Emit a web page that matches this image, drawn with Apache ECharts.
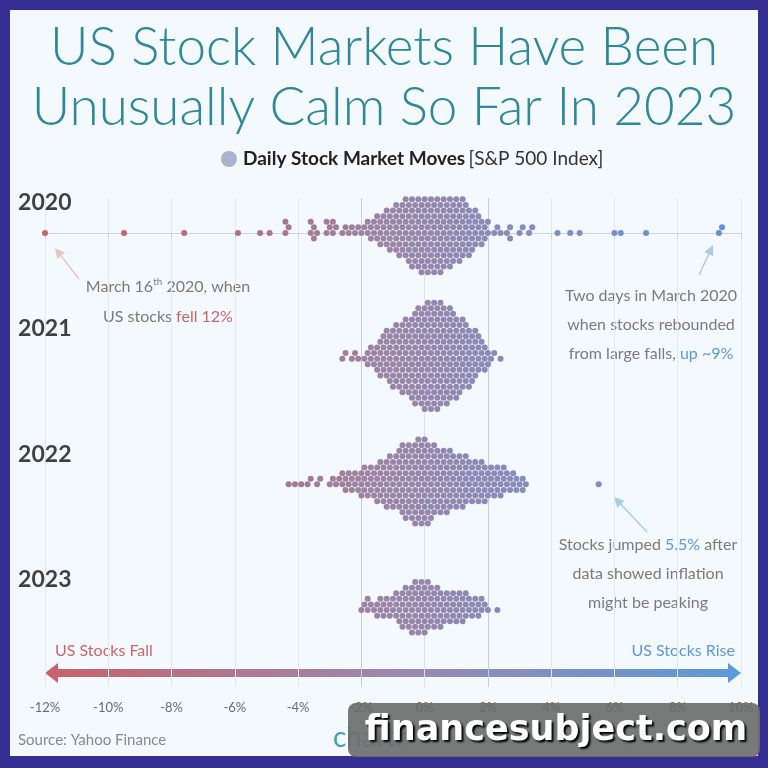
<!DOCTYPE html>
<html>
<head>
<meta charset="utf-8">
<script src="https://cdn.jsdelivr.net/npm/echarts@6/dist/echarts.min.js"></script>
<style>
html,body{margin:0;padding:0;background:#352f94;}
#main{width:768px;height:768px;}
</style>
</head>
<body>
<div id="main"></div>
<script>
// daily S&P 500 moves, rounded to 0.1% : [move, number of days]
const years = ['2020', '2021', '2022', '2023'];
const moves2020 = [
  [-12.0,1],[-9.5,1],[-7.6,1],[-5.9,1],[-5.2,1],[-4.9,1],[-4.4,2],[-4.3,1],
  [-3.6,2],[-3.5,2],[-3.4,1],[-3.1,2],[-3.0,1],[-2.9,2],[-2.8,1],
  [-2.6,1],[-2.5,1],[-2.4,1],[-2.3,1],[-2.2,1],[-2.1,1],[-2.0,1],[-1.9,1],
  [-1.8,2],[-1.7,2],[-1.6,2],[-1.5,3],[-1.4,3],[-1.3,3],[-1.2,4],[-1.1,4],[-1.0,4],
  [-0.9,5],[-0.8,5],[-0.7,5],[-0.6,6],[-0.5,7],[-0.4,7],[-0.3,7],[-0.2,7],
  [-0.1,8],[0.0,8],[0.1,8],[0.2,8],[0.3,8],[0.4,8],[0.5,8],[0.6,7],[0.7,7],[0.8,7],
  [0.9,6],[1.0,6],[1.1,6],[1.2,6],[1.3,5],[1.4,5],[1.5,4],[1.6,4],[1.7,3],[1.8,3],
  [1.9,2],[2.0,2],[2.2,1],[2.3,1],[2.4,1],[2.6,1],[2.7,2],[3.0,1],[3.1,1],[3.3,1],[3.4,1],
  [4.2,1],[4.6,1],[4.9,1],[6.0,1],[6.2,1],[7.0,1],[9.3,1],[9.4,1]
];
const moves2021 = [
  [-2.6,1],[-2.5,1],[-2.3,1],[-2.2,1],[-2.1,1],[-1.9,1],[-1.8,2],[-1.7,2],[-1.6,2],
  [-1.5,3],[-1.4,4],[-1.3,4],[-1.2,5],[-1.1,5],[-1.0,6],[-0.9,6],[-0.8,6],[-0.7,7],
  [-0.6,7],[-0.5,7],[-0.4,8],[-0.3,9],[-0.2,9],[-0.1,9],[0.0,10],[0.1,10],[0.2,10],
  [0.3,10],[0.4,10],[0.5,10],[0.6,9],[0.7,9],[0.8,9],[0.9,8],[1.0,8],[1.1,7],[1.2,7],
  [1.3,6],[1.4,6],[1.5,5],[1.6,5],[1.7,4],[1.8,3],[1.9,3],[2.0,2],[2.1,1],[2.2,1],[2.4,1]
];
const moves2022 = [
  [-4.3,1],[-4.1,1],[-3.9,1],[-3.7,1],[-3.6,1],[-3.4,1],[-3.3,1],[-3.0,1],[-2.9,1],[-2.8,1],
  [-2.7,1],[-2.6,2],[-2.5,2],[-2.4,2],[-2.3,2],[-2.2,2],[-2.1,2],
  [-2.0,3],[-1.9,3],[-1.8,3],[-1.7,3],[-1.6,3],[-1.5,4],[-1.4,4],[-1.3,4],
  [-1.2,5],[-1.1,5],[-1.0,5],[-0.9,5],[-0.8,6],[-0.7,7],[-0.6,7],[-0.5,7],[-0.4,7],
  [-0.3,8],[-0.2,8],[-0.1,8],[0.0,8],[0.1,8],[0.2,7],[0.3,7],[0.4,6],[0.5,6],[0.6,6],[0.7,6],
  [0.8,6],[0.9,5],[1.0,5],[1.1,5],[1.2,5],[1.3,5],[1.4,4],[1.5,4],[1.6,4],[1.7,4],[1.8,4],[1.9,4],
  [2.0,3],[2.1,3],[2.2,3],[2.3,3],[2.4,3],[2.5,3],[2.6,2],[2.7,2],[2.8,2],[2.9,2],
  [3.0,1],[3.1,2],[3.2,1],[5.5,1]
];
const moves2023 = [
  [-2.0,1],[-1.9,1],[-1.8,2],[-1.7,1],[-1.6,1],[-1.5,2],[-1.4,2],[-1.3,2],[-1.2,2],[-1.1,2],
  [-1.0,2],[-0.9,3],[-0.8,3],[-0.7,4],[-0.6,4],[-0.5,4],[-0.4,5],[-0.3,5],[-0.2,5],
  [-0.1,5],[0.0,5],[0.1,5],[0.2,4],[0.3,4],[0.4,4],[0.5,4],[0.6,3],[0.7,3],[0.8,3],
  [0.9,3],[1.0,3],[1.1,3],[1.2,3],[1.3,3],[1.4,2],[1.5,2],[1.6,2],[1.7,2],[1.8,2],[1.9,1],[2.0,1],[2.3,1]
];
const xTicks = [-12, 10, 2];   // min, max, step (%)

// layout
const G = {left: 45, right: 27, top: 198, bottom: 81};
const Y_MIN = -0.278, Y_MAX = 3.612;
const pxPerPct = (768 - G.left - G.right) / (xTicks[1] - xTicks[0]);
const pxPerRow = (768 - G.top - G.bottom) / (Y_MAX - Y_MIN);
const DOT = 6, GAP = 6.3, STEP = 5.6;

// beeswarm on a hex lattice: each dot goes to the free row nearest the centre line
function swarm(bins, row){
    let vals = [];
    bins.forEach(([v, n]) => { for(let i = 0; i < n; i++) vals.push(v); });
    vals.sort((a, b) => a - b);
    let placed = [];
    vals.forEach(v => {
        let x = v * pxPerPct;
        let near = placed.filter(p => Math.abs(p.x - x) < GAP);
        let y = 0;
        for(let k = 0; k < 200; k++){
            let m = k === 0 ? 0 : (k % 2 ? -Math.ceil(k / 2) : k / 2);
            let c = m * STEP;
            if(near.every(p => (p.x - x) ** 2 + (p.y - c) ** 2 >= GAP * GAP - 0.01)){ y = c; break; }
        }
        placed.push({x, y});
    });
    return placed.map((p, i) => [vals[i], row + p.y / pxPerRow]);
}

const dots = [].concat(
    swarm(moves2020, 0), swarm(moves2021, 1), swarm(moves2022, 2), swarm(moves2023, 3)
);

function arrow(x1, y1, x2, y2, color){
    let a = Math.atan2(y2 - y1, x2 - x1), L = 10, W = 5;
    let bx = x2 - L * Math.cos(a), by = y2 - L * Math.sin(a);
    return [
        {type: 'line', shape: {x1, y1, x2: bx, y2: by}, style: {stroke: color, lineWidth: 1.5}},
        {type: 'polygon', shape: {points: [[x2, y2], [bx + W * Math.sin(a), by - W * Math.cos(a)], [bx - W * Math.sin(a), by + W * Math.cos(a)]]}, style: {fill: color}}
    ];
}

const FONT = 'Lato, "Open Sans", sans-serif';
const grey = '#7b7b7b', red = '#c9666b', blue = '#5b9ad4';
const annoStyle = {fontFamily: FONT, fontSize: 16, fill: grey, align: 'center', verticalAlign: 'middle'};

let chart = echarts.init(document.getElementById('main'));
let ax = 45, bx = 741, ay = 673;
let option = {
    backgroundColor: '#352f94',
    animation: false,
    title: {
        text: 'US Stock Markets Have Been\nUnusually Calm So Far In 2023',
        left: 'center', top: 13,
        textStyle: {fontFamily: FONT, fontWeight: 300, fontSize: 53, lineHeight: 60, color: '#2f8898'}
    },
    grid: G,
    xAxis: {
        type: 'value', min: xTicks[0], max: xTicks[1], interval: xTicks[2],
        axisLine: {lineStyle: {color: '#cfd3d6'}},
        axisTick: {show: true, inside: false, length: 6, lineStyle: {color: '#cfd3d6'}},
        axisLabel: {formatter: '{value}%', color: '#6b6b6b', fontFamily: FONT, fontSize: 13, margin: 14},
        splitLine: {show: true, lineStyle: {color: ['#e4e9ec','#e4e9ec','#e4e9ec','#e4e9ec','#e4e9ec','#c9cdd0','#dde2e5','#c9cdd0','#e4e9ec','#e4e9ec','#e4e9ec','#e4e9ec']}}
    },
    yAxis: {type: 'value', min: Y_MIN, max: Y_MAX, inverse: true, show: false},
    visualMap: {
        show: false, type: 'continuous', dimension: 0, seriesIndex: 0, min: -12, max: 10,
        inRange: {color: ['#cc6268', '#b0707f', '#9a85a8', '#7f8dc6', '#5b93d8']}
    },
    series: [
        {type: 'scatter', symbolSize: DOT, data: dots, itemStyle: {opacity: 1}},
        {
            type: 'scatter', symbolSize: 0, clip: false, silent: true,
            data: years.map((y, i) => [-12.85, i - 0.24, y]),
            label: {show: true, position: 'right', distance: 0, formatter: p => p.value[2],
                color: '#111', fontFamily: FONT, fontSize: 23, fontWeight: 'bold'}
        }
    ],
    graphic: [
        {type: 'rect', shape: {x: 10, y: 10, width: 748, height: 746}, style: {fill: '#f3f9fc'}, z: -10},
        // legend
        {type: 'circle', shape: {cx: 229, cy: 159, r: 8}, style: {fill: '#a9b3cc'}},
        {type: 'text', x: 243, y: 159, style: {
            text: '{b|Daily Stock Market Moves} {n|[S&P 500 Index]}', verticalAlign: 'middle',
            rich: {b: {fontFamily: FONT, fontSize: 19, fontWeight: 'bold', fill: '#222'}, n: {fontFamily: FONT, fontSize: 19, fill: '#333'}}
        }},
        // direction arrow
        {type: 'polygon', shape: {points: [[ax, ay], [ax + 13, ay - 10], [ax + 13, ay - 4], [bx - 13, ay - 4], [bx - 13, ay - 10], [bx, ay], [bx - 13, ay + 10], [bx - 13, ay + 4], [ax + 13, ay + 4], [ax + 13, ay + 10]]},
         style: {fill: new echarts.graphic.LinearGradient(0, 0, 1, 0, [{offset: 0, color: '#c8626a'}, {offset: 0.5, color: '#9d88b0'}, {offset: 1, color: '#5a9ad9'}])}},
        {type: 'text', x: 55, y: 651, style: {text: 'US Stocks Fall', fontFamily: FONT, fontSize: 16, fill: red, verticalAlign: 'middle'}},
        {type: 'text', x: 735, y: 651, style: {text: 'US Stocks Rise', fontFamily: FONT, fontSize: 16, fill: blue, align: 'right', verticalAlign: 'middle'}},
        // annotations
        {type: 'text', x: 168, y: 287, style: Object.assign({}, annoStyle, {
            text: 'March 16{s|th} 2020, when', rich: {s: {fontFamily: FONT, fontSize: 10, fill: grey, verticalAlign: 'top', lineHeight: 20}}})},
        {type: 'text', x: 168, y: 317, style: Object.assign({}, annoStyle, {
            text: 'US stocks {r|fell 12%}', rich: {r: {fontFamily: FONT, fontSize: 16, fill: red}}})},
        {type: 'text', x: 651, y: 296, style: Object.assign({}, annoStyle, {text: 'Two days in March 2020'})},
        {type: 'text', x: 651, y: 325, style: Object.assign({}, annoStyle, {text: 'when stocks rebounded'})},
        {type: 'text', x: 651, y: 354, style: Object.assign({}, annoStyle, {
            text: 'from large falls, {b|up ~9%}', rich: {b: {fontFamily: FONT, fontSize: 16, fill: blue}}})},
        {type: 'text', x: 648, y: 545, style: Object.assign({}, annoStyle, {
            text: 'Stocks jumped {b|5.5%} after', rich: {b: {fontFamily: FONT, fontSize: 16, fill: blue}}})},
        {type: 'text', x: 648, y: 574, style: Object.assign({}, annoStyle, {text: 'data showed inflation'})},
        {type: 'text', x: 648, y: 603, style: Object.assign({}, annoStyle, {text: 'might be peaking'})},
        ...arrow(79, 279, 55, 248, '#e2c6c8'),
        ...arrow(699, 275, 713, 245, '#a9cde0'),
        ...arrow(647, 532, 614, 497, '#a9cde0'),
        // footer
        {type: 'text', x: 18, y: 740, style: {text: 'Source: Yahoo Finance', fontFamily: FONT, fontSize: 15, fill: '#8a8a8a', verticalAlign: 'middle'}},
        {type: 'text', x: 333, y: 738, style: {text: 'chartr', fontFamily: FONT, fontSize: 28, fill: '#3fa1b7', verticalAlign: 'middle'}},
        {type: 'rect', shape: {x: 348, y: 703, width: 412, height: 54, r: 8}, style: {fill: 'rgba(110,110,110,0.92)'}},
        {type: 'text', x: 556, y: 731, style: {text: 'financesubject.com', fontFamily: '"DejaVu Sans"', fontWeight: 'bold', fontSize: 35,
            fill: '#fff', align: 'center', verticalAlign: 'middle', textShadowColor: '#000', textShadowBlur: 2, textShadowOffsetX: 2, textShadowOffsetY: 2}}
    ]
};
chart.setOption(option);
window.addEventListener('resize', () => chart.resize());
</script>
</body>
</html>
